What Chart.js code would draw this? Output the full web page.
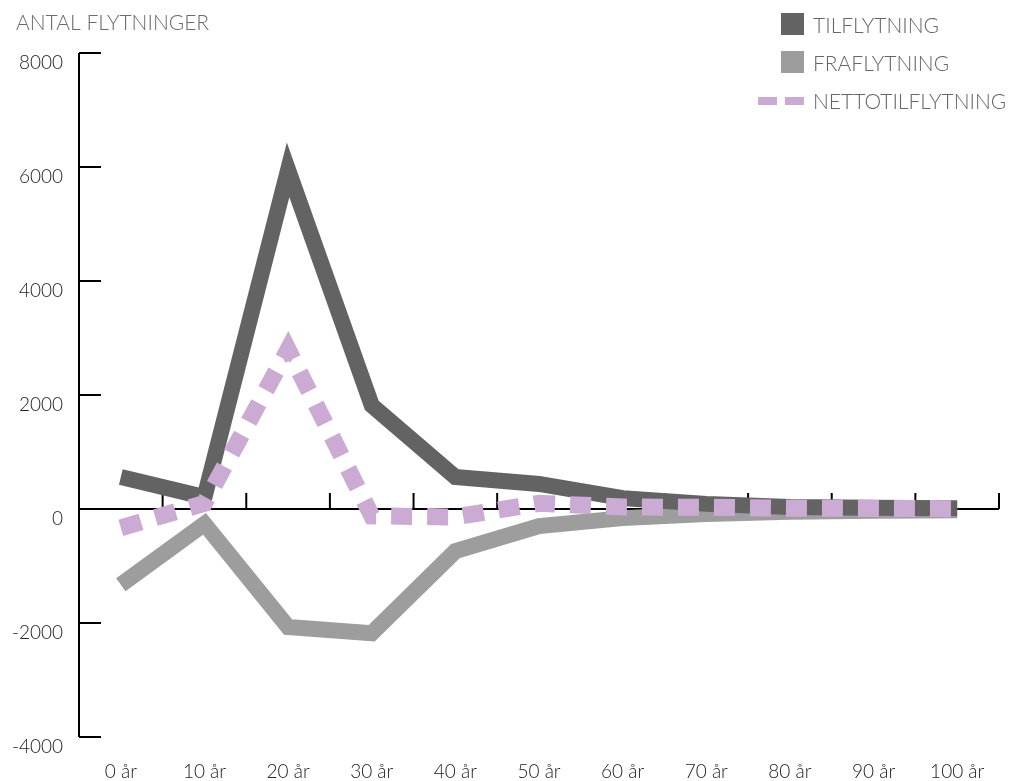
<!DOCTYPE html>
<html>
<head>
<meta charset="utf-8">
<script src="https://cdn.jsdelivr.net/npm/chart.js@4.4.0/dist/chart.umd.min.js"></script>
<style>
  html, body { margin: 0; padding: 0; background: #fff; }
  #wrap { width: 1018px; height: 781px; }
</style>
</head>
<body>
<div id="wrap"><canvas id="myChart"></canvas></div>
<script>
const labels = ['0 år', '10 år', '20 år', '30 år', '40 år', '50 år', '60 år', '70 år', '80 år', '90 år', '100 år'];

const tilflytning = [560, 210, 5950, 1820, 560, 440, 190, 90, 35, 20, 15];
const fraflytning = [-1330, -260, -2070, -2180, -740, -300, -160, -90, -50, -30, -20];
const nettotilflytning = [-330, 100, 2800, -120, -140, 100, 35, 30, 15, 10, 5];

const yMin = -4000;
const yMax = 8000;
const yStep = 2000;

const titleText = 'ANTAL FLYTNINGER';
const FONT = 'Lato, "Open Sans", sans-serif';

// axes at zero + inward tick marks, drawn under the lines
const axesPlugin = {
  id: 'axes',
  beforeDatasetsDraw(chart) {
    const { ctx, chartArea, scales } = chart;
    const x = scales.x, y = scales.y;
    const y0 = y.getPixelForValue(0);
    ctx.save();
    ctx.strokeStyle = '#000';
    ctx.lineWidth = 2;
    ctx.beginPath();
    ctx.moveTo(chartArea.left, chartArea.top);
    ctx.lineTo(chartArea.left, chartArea.bottom);
    y.ticks.forEach(t => {
      const py = y.getPixelForValue(t.value);
      ctx.moveTo(chartArea.left, py);
      ctx.lineTo(chartArea.left + 22, py);
    });
    ctx.moveTo(chartArea.left, y0);
    ctx.lineTo(chartArea.right, y0);
    const half = (x.getPixelForValue(1) - x.getPixelForValue(0)) / 2;
    for (let i = 0; i <= labels.length; i++) {
      const px = x.getPixelForValue(i) - half;
      ctx.moveTo(px, y0);
      ctx.lineTo(px, y0 - 16);
    }
    ctx.stroke();
    ctx.restore();
  }
};

// title top left, legend top right
const legendPlugin = {
  id: 'customLegend',
  afterDraw(chart) {
    const ctx = chart.ctx;
    ctx.save();
    ctx.font = '300 21px ' + FONT;
    ctx.fillStyle = '#6b6b6b';
    ctx.textBaseline = 'middle';
    ctx.textAlign = 'left';
    ctx.fillText(titleText, 16, 23);

    const rows = [25, 63, 101];
    chart.data.datasets.forEach((ds, i) => {
      const yy = rows[i];
      ctx.fillStyle = ds.borderColor;
      if (ds.borderDash) {
        ctx.fillRect(758, yy - 4, 19, 8);
        ctx.fillRect(785, yy - 4, 19, 8);
      } else {
        ctx.fillRect(781, yy - 12, 23, 22);
      }
      ctx.fillStyle = '#666';
      ctx.font = '300 21px ' + FONT;
      ctx.fillText(ds.label, 813, yy + 1);
    });
    ctx.restore();
  }
};

const data = {
  labels: labels,
  datasets: [
    {
      label: 'TILFLYTNING',
      data: tilflytning,
      borderColor: '#636363',
      borderWidth: 16,
      order: 1
    },
    {
      label: 'FRAFLYTNING',
      data: fraflytning,
      borderColor: '#9d9d9d',
      borderWidth: 16,
      order: 2
    },
    {
      label: 'NETTOTILFLYTNING',
      data: nettotilflytning,
      borderColor: '#cbaad3',
      borderWidth: 17,
      borderDash: [21, 15],
      order: 0
    }
  ]
};

const config = {
  type: 'line',
  data: data,
  options: {
    responsive: false,
    animation: false,
    layout: {
      padding: { left: 0, right: 19, top: 53, bottom: 0 }
    },
    elements: {
      line: {
        fill: false,
        tension: 0,
        borderJoinStyle: 'miter',
        borderCapStyle: 'butt'
      },
      point: { radius: 0, hoverRadius: 0 }
    },
    plugins: {
      legend: { display: false },
      title: { display: false },
      tooltip: { enabled: false }
    },
    scales: {
      x: {
        offset: true,
        grid: { display: false, drawTicks: false },
        border: { display: false },
        ticks: {
          color: '#222',
          font: { family: FONT, size: 19, weight: '300' },
          padding: 23,
          maxRotation: 0,
          autoSkip: false
        },
        afterFit(scale) { scale.height = 44; }
      },
      y: {
        min: yMin,
        max: yMax,
        grid: { display: false, drawTicks: false },
        border: { display: false },
        ticks: {
          stepSize: yStep,
          color: '#222',
          font: { family: FONT, size: 19, weight: '300' },
          padding: 16,
          labelOffset: 10,
          callback: (value) => String(value)
        },
        afterFit(scale) { scale.width = 79; }
      }
    }
  },
  plugins: [axesPlugin, legendPlugin]
};

const ctx = document.getElementById('myChart').getContext('2d');
ctx.canvas.width = 1018;
ctx.canvas.height = 781;

const myChart = new Chart(ctx, config);
</script>
</body>
</html>
